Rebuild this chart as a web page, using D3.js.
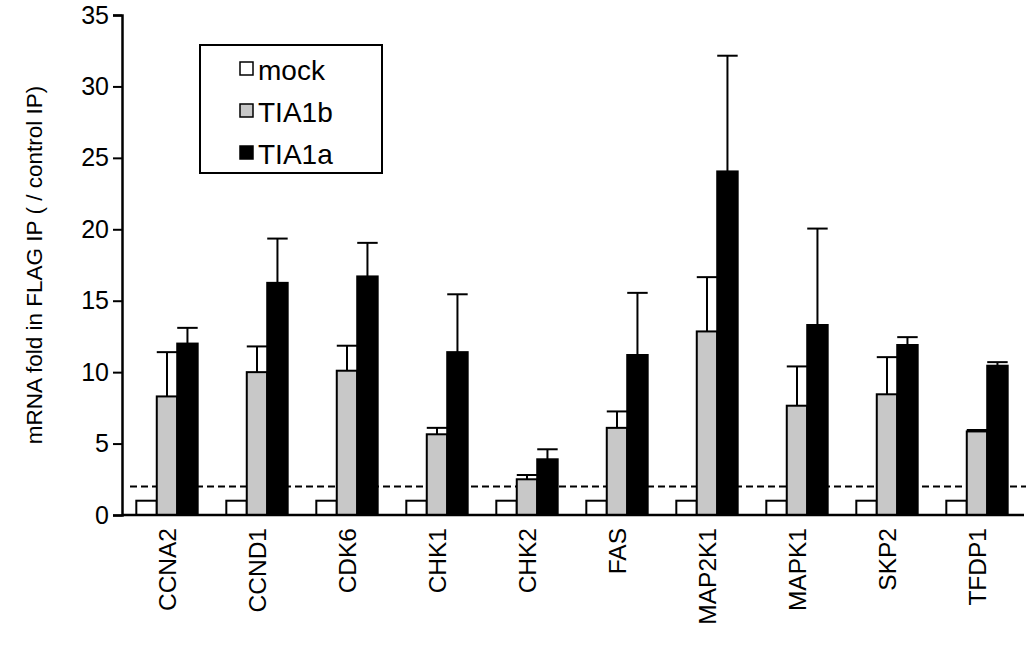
<!DOCTYPE html>
<html>
<head>
<meta charset="utf-8">
<script src="https://cdn.jsdelivr.net/npm/d3@7"></script>
<style>
  body { margin: 0; background: white; }
  svg { display: block; font-family: "Liberation Sans", Arial, sans-serif; }
</style>
</head>
<body>
<div id="chart"></div>
<script>
// gene names along the x axis
const genes = ['CCNA2', 'CCND1', 'CDK6', 'CHK1', 'CHK2', 'FAS', 'MAP2K1', 'MAPK1', 'SKP2', 'TFDP1'];
const seriesNames = ['mock', 'TIA1b', 'TIA1a'];

// values
const mock = [1, 1, 1, 1, 1, 1, 1, 1, 1, 1];
const mockErr = [0, 0, 0, 0, 0, 0, 0, 0, 0, 0];
const tia1b = [8.3, 10.0, 10.1, 5.65, 2.5, 6.1, 12.85, 7.65, 8.45, 5.85];
const tia1bErr = [3.1, 1.8, 1.75, 0.45, 0.3, 1.15, 3.8, 2.75, 2.6, 0.1];
const tia1a = [12.0, 16.25, 16.7, 11.4, 3.9, 11.2, 24.05, 13.3, 11.9, 10.45];
const tia1aErr = [1.1, 3.1, 2.35, 4.05, 0.7, 4.35, 8.1, 6.75, 0.55, 0.25];

const yTicks = [0, 5, 10, 15, 20, 25, 30, 35];
const threshold = 2;

let width = 1026, height = 646;
let margin = { top: 15, left: 122, right: 4, bottom: 131 };

let svg = d3.select('#chart')
  .append('svg')
  .attr('width', width)
  .attr('height', height)
  .style('background-color', 'white');

// table built from the arrays above
let rows = genes.map((g, i) => ({
  gene: g,
  bars: [
    { key: 'mock', value: mock[i], err: mockErr[i] },
    { key: 'TIA1b', value: tia1b[i], err: tia1bErr[i] },
    { key: 'TIA1a', value: tia1a[i], err: tia1aErr[i] }
  ]
}));

let fills = { mock: '#ffffff', TIA1b: '#c8c8c8', TIA1a: '#000000' };

let x0 = d3.scaleBand()
  .domain(genes)
  .range([margin.left, width - margin.right]);

let x1 = d3.scaleBand()
  .domain(seriesNames)
  .range([0, x0.bandwidth()])
  .paddingOuter(0.7);

let yScale = d3.scaleLinear()
  .domain([0, 35])
  .range([height - margin.bottom, margin.top]);

// dashed threshold line, behind the bars
svg.append('line')
  .attr('x1', margin.left + 8)
  .attr('x2', width)
  .attr('y1', yScale(threshold))
  .attr('y2', yScale(threshold))
  .attr('stroke', 'black')
  .attr('stroke-width', 2)
  .attr('stroke-dasharray', '7,4');

// bars
let groups = svg.selectAll('.group')
  .data(rows)
  .enter()
  .append('g')
    .attr('class', 'group')
    .attr('transform', d => `translate(${x0(d.gene)},0)`);

groups.selectAll('rect')
  .data(d => d.bars)
  .enter()
  .append('rect')
    .attr('x', d => x1(d.key))
    .attr('y', d => yScale(d.value))
    .attr('width', x1.bandwidth())
    .attr('height', d => yScale(0) - yScale(d.value))
    .attr('fill', d => fills[d.key])
    .attr('stroke', 'black')
    .attr('stroke-width', 2);

// error bars (upper only)
let errs = groups.selectAll('.err')
  .data(d => d.bars.filter(b => b.err > 0))
  .enter()
  .append('g')
    .attr('class', 'err');

errs.append('line')
  .attr('x1', d => x1(d.key) + x1.bandwidth() / 2)
  .attr('x2', d => x1(d.key) + x1.bandwidth() / 2)
  .attr('y1', d => yScale(d.value))
  .attr('y2', d => yScale(d.value + d.err))
  .attr('stroke', 'black')
  .attr('stroke-width', 2);

errs.append('line')
  .attr('x1', d => x1(d.key))
  .attr('x2', d => x1(d.key) + x1.bandwidth())
  .attr('y1', d => yScale(d.value + d.err))
  .attr('y2', d => yScale(d.value + d.err))
  .attr('stroke', 'black')
  .attr('stroke-width', 2);

// y axis
let yAxis = d3.axisLeft(yScale)
  .tickValues(yTicks)
  .tickSize(9)
  .tickPadding(4);

let yG = svg.append('g')
  .attr('transform', `translate(${margin.left},0)`)
  .call(yAxis);
yG.select('.domain').attr('stroke-width', 2.5);
yG.selectAll('.tick line').attr('stroke-width', 2);
yG.selectAll('text')
  .attr('font-size', 25)
  .attr('font-family', '"Liberation Sans", Arial, sans-serif')
  .attr('fill', 'black');

// x axis line
svg.append('line')
  .attr('x1', margin.left)
  .attr('x2', width - 2)
  .attr('y1', yScale(0))
  .attr('y2', yScale(0))
  .attr('stroke', 'black')
  .attr('stroke-width', 2.5);

// x labels, rotated
svg.selectAll('.xlabel')
  .data(genes)
  .enter()
  .append('text')
    .attr('class', 'xlabel')
    .attr('transform', d => `translate(${x0(d) + x0.bandwidth() / 2 + 9},${yScale(0) + 13}) rotate(-90)`)
    .style('text-anchor', 'end')
    .attr('font-size', 24.5)
    .text(d => d);

// y axis label
svg.append('text')
  .attr('transform', `translate(42,${(yScale(0) + yScale(35)) / 2}) rotate(-90)`)
  .style('text-anchor', 'middle')
  .attr('font-size', 22.5)
  .text('mRNA fold in FLAG IP ( / control IP)');

// legend
let legend = svg.append('g');
legend.append('rect')
  .attr('x', 200)
  .attr('y', 45)
  .attr('width', 182)
  .attr('height', 128)
  .attr('fill', 'white')
  .attr('stroke', 'black')
  .attr('stroke-width', 2);

let items = legend.selectAll('.item')
  .data(seriesNames)
  .enter()
  .append('g')
    .attr('transform', (d, i) => `translate(0,${80 + i * 42})`);

items.append('rect')
  .attr('x', 240)
  .attr('y', -18)
  .attr('width', 13)
  .attr('height', 13)
  .attr('fill', d => fills[d])
  .attr('stroke', 'black')
  .attr('stroke-width', 1.5);

items.append('text')
  .attr('x', 258)
  .attr('y', 0)
  .attr('font-size', 28)
  .text(d => d);
</script>
</body>
</html>
